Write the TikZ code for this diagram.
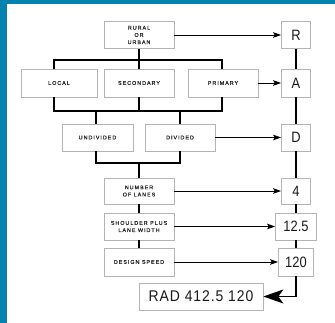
\documentclass[tikz,border=0pt]{standalone}
\usepackage{fontspec}
\setmainfont{Liberation Sans}
\newfontfamily\labelfont[LetterSpace=18,FakeBold=0.6]{Liberation Sans}
\newfontfamily\valuefont[FakeStretch=0.86]{Liberation Sans}
\newfontfamily\radfont[FakeStretch=0.9,LetterSpace=6]{Liberation Sans}
\usetikzlibrary{arrows.meta}
\definecolor{frame}{HTML}{0083AE}
\definecolor{boxline}{HTML}{B4B4B4}
\tikzstyle{step box} = [
    draw=boxline,
    line width=0.7pt,
    inner sep=0pt,
    minimum width=70pt,
    minimum height=27pt,
    align=center,
    text=black!85,
    font=\labelfont\fontsize{5.4}{7.2}\selectfont]
\tikzstyle{value} = [
    draw=boxline,
    line width=0.7pt,
    inner sep=0pt,
    minimum width=29pt,
    minimum height=27pt,
    text=black!90,
    font=\valuefont\fontsize{15}{17}\selectfont]
\tikzstyle{bus} = [line width=1.6pt]
\tikzstyle{feed} = [line width=0.9pt, -{Stealth[length=8pt,width=5.5pt,inset=1.5pt]}]

\begin{document}
\begin{tikzpicture}[x=1pt,y=-1pt]
        \fill[frame] (0,0) rectangle (335,323);
        \fill[white] (7,4) rectangle (335,323);
        \useasboundingbox (0,0) rectangle (335,323);

        \node[step box] (RU) at (139,35) {RURAL\\OR\\URBAN};
        \node[step box, minimum width=76pt, minimum height=28pt] (LO) at (59,83) {LOCAL};
        \node[step box, minimum height=28pt] (SE) at (139,83) {SECONDARY};
        \node[step box, minimum height=28pt] (PR) at (223,83) {PRIMARY};
        \node[step box, minimum width=71pt] (UN) at (97.5,137.5) {UNDIVIDED};
        \node[step box] (DI) at (180,137.5) {DIVIDED};
        \node[step box, minimum height=26pt] (NL) at (139,191) {NUMBER\\OF LANES};
        \node[step box] (SW) at (139,226.5) {SHOULDER PLUS\\LANE WIDTH};
        \node[step box, minimum height=28pt] (DS) at (139,262) {DESIGN SPEED};

        \node[value] (R) at (296,35) {R};
        \node[value, minimum height=28pt] (A) at (296,83) {A};
        \node[value] (D) at (296,137.5) {D};
        \node[value, minimum height=26pt] (N) at (296,191) {4};
        \node[value, minimum width=41pt] (W) at (296,226.5) {12.5};
        \node[value, minimum width=35pt, minimum height=28pt] (S) at (296,262) {120};
        \node[value, minimum width=124pt, font=\radfont\fontsize{15.5}{17}\selectfont] (RAD) at (201,296.5) {RAD 412.5 120};

        % bus corners
        \coordinate (a1) at (54,60);
        \coordinate (a2) at (222,60);
        \coordinate (b1) at (54,111);
        \coordinate (b2) at (222,111);
        \coordinate (c1) at (96,163);
        \coordinate (c2) at (180,163);

        % branching of the road classes
        \draw[bus] (RU.south) -- (RU.south |- a1);
        \draw[bus] (LO.north -| a1) -- (a1) -- (a2) -- (PR.north -| a2);
        \draw[bus] (SE.north) -- (SE.north |- a1);
        \draw[bus] (LO.south -| b1) -- (b1) -- (b2) -- (PR.south -| b2);
        \draw[bus] (SE.south) -- (SE.south |- b1);
        \draw[bus] (UN.north -| c1) -- (c1 |- b1);
        \draw[bus] (DI.north) -- (DI.north |- b1);
        \draw[bus] (UN.south -| c1) -- (c1) -- (c2) -- (DI.south);
        \draw[bus] (NL.north) -- (NL.north |- c1);
        \draw[bus] (NL.south) -- (SW.north);
        \draw[bus] (SW.south) -- (DS.north);

        % code letters
        \draw[bus] (R.south) -- (A.north);
        \draw[bus] (A.south) -- (D.north);
        \draw[bus] (D.south) -- (N.north);
        \draw[bus] (N.south) -- (W.north);
        \draw[bus] (W.south) -- (S.north);
        \draw[bus, -{Stealth[length=20pt,width=14pt,inset=5pt]}]
            (S.south) |- (RAD.east);

        \path[feed] (RU.east) edge (R.west);
        \path[feed] (PR.east) edge (A.west);
        \path[feed] (DI.east) edge (D.west);
        \path[feed] (NL.east) edge (N.west);
        \path[feed] (SW.east) edge (W.west);
        \path[feed] (DS.east) edge (S.west);
    \end{tikzpicture}
\end{document}
